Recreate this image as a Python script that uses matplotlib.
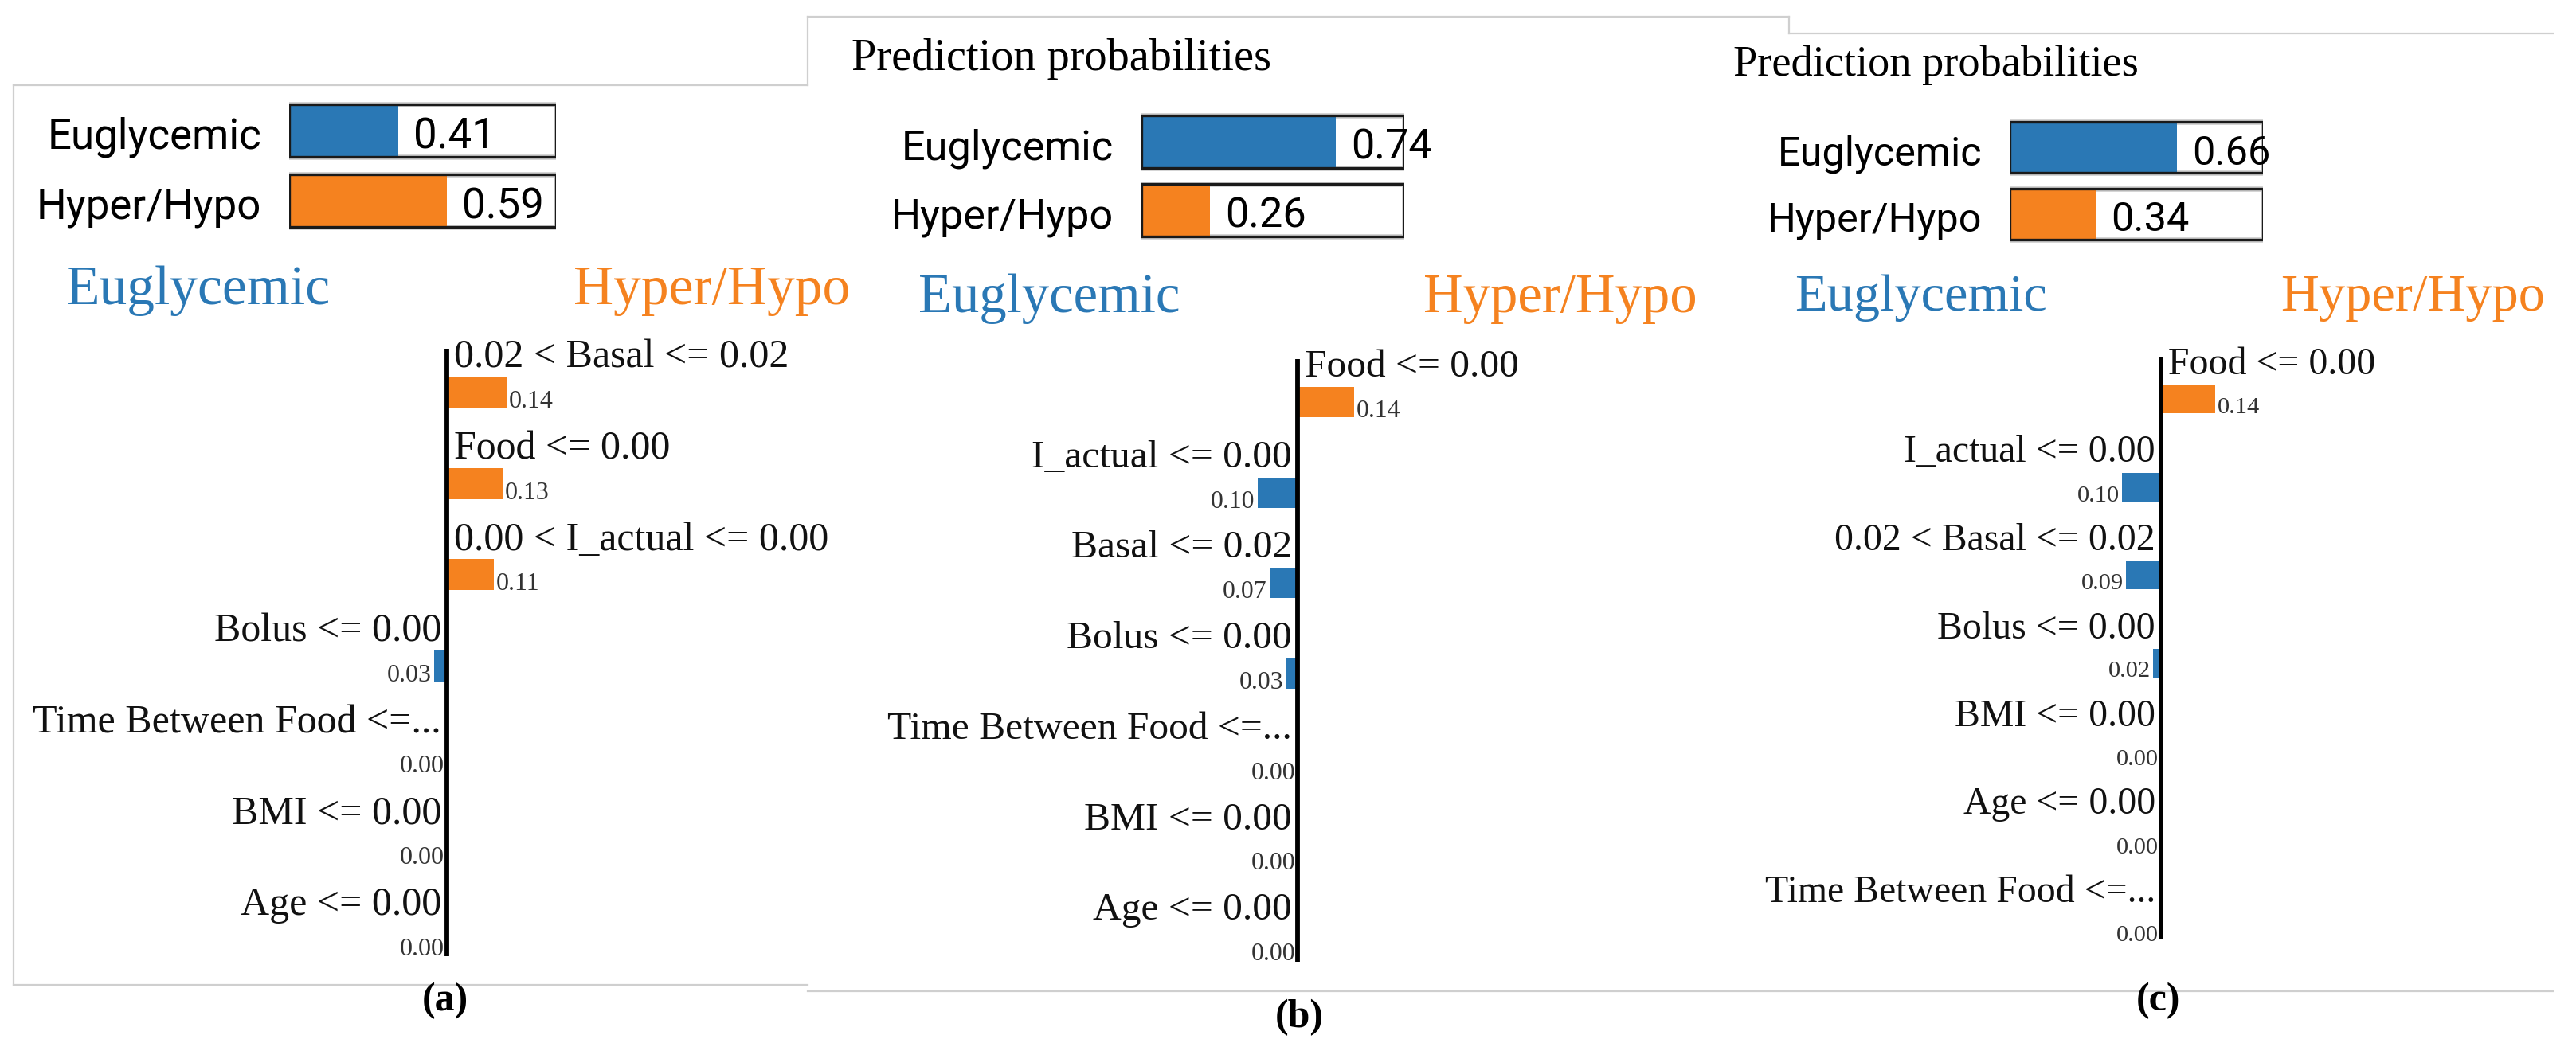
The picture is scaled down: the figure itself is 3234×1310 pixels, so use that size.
import numpy as np
import matplotlib
matplotlib.use("Agg")
import matplotlib.pyplot as plt
from matplotlib.lines import Line2D

# ---------------- data ----------------
classes = ["Euglycemic", "Hyper/Hypo"]

probs_a = [0.41, 0.59]
probs_b = [0.74, 0.26]
probs_c = [0.66, 0.34]

features_a = ["0.02 < Basal <= 0.02", "Food <= 0.00", "0.00 < I_actual <= 0.00",
              "Bolus <= 0.00", "Time Between Food <=...", "BMI <= 0.00", "Age <= 0.00"]
weights_a = [0.14, 0.13, 0.11, -0.03, -0.00, -0.00, -0.00]

features_b = ["Food <= 0.00", "I_actual <= 0.00", "Basal <= 0.02", "Bolus <= 0.00",
              "Time Between Food <=...", "BMI <= 0.00", "Age <= 0.00"]
weights_b = [0.14, -0.10, -0.07, -0.03, -0.00, -0.00, -0.00]

features_c = ["Food <= 0.00", "I_actual <= 0.00", "0.02 < Basal <= 0.02", "Bolus <= 0.00",
              "BMI <= 0.00", "Age <= 0.00", "Time Between Food <=..."]
weights_c = [0.14, -0.10, -0.09, -0.02, -0.00, -0.00, -0.00]

panel_tags = ["(a)", "(b)", "(c)"]
pp_title = "Prediction probabilities"

# ---------------- style / layout ----------------
BLUE = "#2a78b5"
ORANGE = "#f5821f"
SERIF = "Liberation Serif"
SANS = "Roboto"
W, H = 3234, 1310

fig = plt.figure(figsize=(W / 100, H / 100), dpi=100)
fig.patch.set_facecolor("white")


def px_axes(x0, y0, x1, y1):
    ax = fig.add_axes([x0 / W, 1 - y1 / H, (x1 - x0) / W, (y1 - y0) / H])
    ax.set_axis_off()
    return ax


def fig_text(x, y, s, **kw):
    fig.text(x / W, 1 - y / H, s, **kw)


def fig_line(xs, ys):
    fig.add_artist(Line2D([x / W for x in xs], [1 - y / H for y in ys],
                          color="#cfcfcf", lw=1.6, transform=fig.transFigure))


layouts = [
    dict(axis_x=561, base0=462, sp=114.5, bar_off=31, bar_h=39, scale=536,
         line_top=438, line_bot=1201, s=1.0,
         bx0=363, bx1=698, prow0=163.5, prow_sp=88, box_h=66, pbl=23,
         title_y=382, blue_left=83, orange_right=1067,
         pp=None, tag=(559, 1257)),
    dict(axis_x=1629, base0=473, sp=113.7, bar_off=32, bar_h=38, scale=505,
         line_top=451, line_bot=1208, s=0.99,
         bx0=1433, bx1=1763, prow0=178, prow_sp=86, box_h=66, pbl=22,
         title_y=392, blue_left=1153, orange_right=2131,
         pp=(1069, 88), tag=(1631, 1278)),
    dict(axis_x=2713, base0=470, sp=110.5, bar_off=31, bar_h=36, scale=486,
         line_top=449, line_bot=1179, s=0.955,
         bx0=2523, bx1=2841, prow0=185, prow_sp=83.5, box_h=64, pbl=22,
         title_y=390, blue_left=2253, orange_right=3195,
         pp=(2176, 95), tag=(2710, 1257)),
]


def draw_probs(L, probs):
    sp = L["prow_sp"]
    r0 = L["prow0"]
    s = L["s"]
    width_px = L["bx1"] - L["bx0"]
    ax = px_axes(L["bx0"], r0 - 0.5 * sp, L["bx1"], r0 + 1.5 * sp)
    ax.set_xlim(0, 1)
    ax.set_ylim(1.5, -0.5)
    ys = np.arange(len(classes))
    h = L["box_h"] / sp
    ones = [1.0] * len(classes)
    ax.barh(ys, ones, height=h, color="white", edgecolor="#d4d4d4", linewidth=5)
    ax.barh(ys, probs, height=h, color=[BLUE, ORANGE], linewidth=0)
    ax.barh(ys, ones, height=h, facecolor="none", edgecolor="#1a1a1a", linewidth=2.4)
    bl = L["pbl"] / sp
    for i, (c, p) in enumerate(zip(classes, probs)):
        ax.text(-35 / width_px, i + bl, c, ha="right", va="baseline",
                fontsize=38 * s, family=SANS, color="black", clip_on=False)
        ax.text(p + 19 / width_px, i + bl, f"{p:.2f}", ha="left", va="baseline",
                fontsize=38 * s, family=SANS, color="black", clip_on=False)


def draw_features(L, feats, weights):
    n = len(feats)
    sp = L["sp"]
    b0 = L["base0"]
    sc = L["scale"]
    s = L["s"]
    axx = L["axis_x"]
    ax = px_axes(axx - 0.6 * sc, b0 - sp, axx + 0.6 * sc, b0 + n * sp)
    ax.set_xlim(-0.6, 0.6)
    ax.set_ylim(n, -1)
    ys = np.arange(n)
    bar_y = ys + L["bar_off"] / sp
    bh = L["bar_h"] / sp
    colors = [ORANGE if w > 0 else BLUE for w in weights]
    ax.barh(bar_y, weights, height=bh, color=colors, linewidth=0)
    ax.plot([0, 0], [(L["line_top"] - b0) / sp, (L["line_bot"] - b0) / sp],
            color="black", lw=4.2, solid_capstyle="butt")
    for i, (f, w) in enumerate(zip(feats, weights)):
        vy = i + (L["bar_off"] + L["bar_h"] / 2) / sp
        if w > 0:
            ax.text(9 / sc, i, f, ha="left", va="baseline", fontsize=36 * s,
                    family=SERIF, color="#111111")
            ax.text(w + 3 / sc, vy, f"{abs(w):.2f}", ha="left", va="baseline",
                    fontsize=23 * s, family=SERIF, color="#333333")
        else:
            ax.text(-7 / sc, i, f, ha="right", va="baseline", fontsize=36 * s,
                    family=SERIF, color="#111111")
            ax.text(w - 3 / sc, vy, f"{abs(w):.2f}", ha="right", va="baseline",
                    fontsize=23 * s, family=SERIF, color="#333333")


all_probs = [probs_a, probs_b, probs_c]
all_feats = [features_a, features_b, features_c]
all_weights = [weights_a, weights_b, weights_c]

# panel frames (light grey borders of the screenshots)
fig_line([17, 17], [107, 1237])
fig_line([17, 1014], [107, 107])
fig_line([17, 1014], [1237, 1237])
fig_line([1014, 1014], [21, 107])
fig_line([1014, 2246], [21, 21])
fig_line([2246, 2246], [21, 42])
fig_line([2246, 3205], [42, 42])
fig_line([1014, 3205], [1245, 1245])

for L, pr, fe, wt, tag in zip(layouts, all_probs, all_feats, all_weights, panel_tags):
    s = L["s"]
    draw_probs(L, pr)
    draw_features(L, fe, wt)
    fig_text(L["blue_left"], L["title_y"], classes[0], ha="left", va="baseline",
             fontsize=50 * s, family=SERIF, color=BLUE)
    fig_text(L["orange_right"], L["title_y"], classes[1], ha="right", va="baseline",
             fontsize=50 * s, family=SERIF, color=ORANGE)
    if L["pp"] is not None:
        fig_text(L["pp"][0], L["pp"][1], pp_title, ha="left", va="baseline",
                 fontsize=41 * s, family=SERIF, color="black")
    fig_text(L["tag"][0], L["tag"][1], tag, ha="center", va="center",
             fontsize=36, family=SERIF, fontweight="bold", color="black")

fig.savefig("out.png", dpi=100, facecolor="white")
